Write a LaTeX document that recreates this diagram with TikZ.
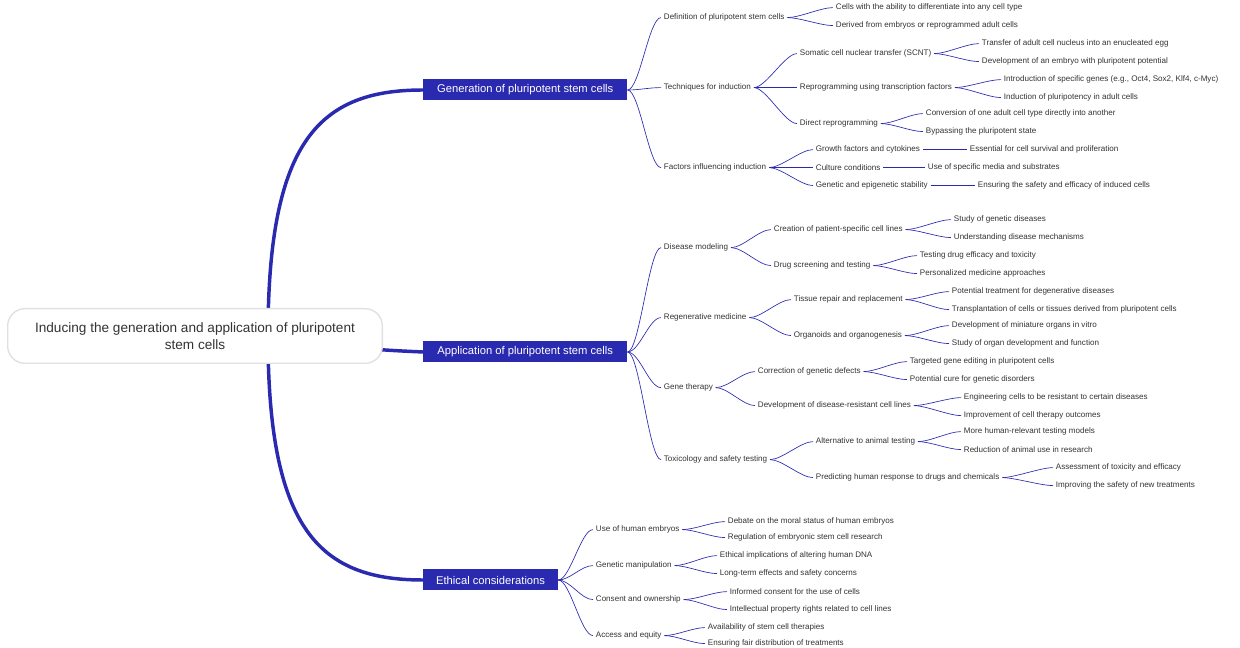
\documentclass[tikz,border=0pt]{standalone}
\usepackage{fontspec}
\setmainfont{Liberation Sans}
\usepackage{tikz}
\definecolor{MB}{HTML}{2A2AB0}
\definecolor{TX}{HTML}{333333}
\tikzset{
  root/.style={draw=black!12, line width=1pt, fill=white, rounded corners=13pt, align=center, font=\fontsize{10.2}{12.5}\selectfont, text=TX},
  branch/.style={fill=MB, text=white, anchor=west, inner xsep=9pt, minimum height=15.75pt, font=\fontsize{8.4}{10}\selectfont},
  leaf/.style={anchor=west, inner xsep=2pt, inner ysep=1pt, yshift=-1.2pt, text=TX, font=\fontsize{6.05}{7.5}\selectfont},
  link/.style={draw=MB, line width=0.5pt},
  trunk/.style={draw=MB, line width=2.6pt},
}
\newcommand{\lnk}[2]{\draw[link] (#1.east) .. controls +(12,0) and +(-12,0) .. (#2.west);}
\begin{document}
\begin{tikzpicture}[x=0.75pt, y=-0.75pt]
\useasboundingbox (0,0) rectangle (1240,648);
% main branches
\node[branch, minimum width=153pt] (g) at (423,90) {Generation of pluripotent stem cells};
\node[branch, minimum width=153pt] (a) at (423,352) {Application of pluripotent stem cells};
\node[branch, minimum width=101pt] (e) at (423,580) {Ethical considerations};
\draw[trunk] (268,336) .. controls (268,140) and (320,90) .. (g.west);
\draw[trunk] (300,342) .. controls (380,350) .. (a.west);
\draw[trunk] (268,336) .. controls (268,530) and (320,580) .. (e.west);
\node[root, minimum width=281pt, minimum height=41pt] (r) at (195,336) {Inducing the generation and application of pluripotent\\stem cells};
% generation
\node[leaf] (g1) at (661,16) {Definition of pluripotent stem cells};
\node[leaf] (g2) at (661,86) {Techniques for induction};
\node[leaf] (g3) at (661,166) {Factors influencing induction};
\node[leaf] (g11) at (833,6) {Cells with the ability to differentiate into any cell type};
\node[leaf] (g12) at (833,24) {Derived from embryos or reprogrammed adult cells};
\node[leaf] (g21) at (797,52) {Somatic cell nuclear transfer (SCNT)};
\node[leaf] (g22) at (797,86) {Reprogramming using transcription factors};
\node[leaf] (g23) at (797,122) {Direct reprogramming};
\node[leaf] (g211) at (979,42) {Transfer of adult cell nucleus into an enucleated egg};
\node[leaf] (g212) at (979,60) {Development of an embryo with pluripotent potential};
\node[leaf] (g221) at (1001,78) {Introduction of specific genes (e.g., Oct4, Sox2, Klf4, c-Myc)};
\node[leaf] (g222) at (1001,96) {Induction of pluripotency in adult cells};
\node[leaf] (g231) at (923,112) {Conversion of one adult cell type directly into another};
\node[leaf] (g232) at (923,130) {Bypassing the pluripotent state};
\node[leaf] (g31) at (813,148) {Growth factors and cytokines};
\node[leaf] (g32) at (813,166) {Culture conditions};
\node[leaf] (g33) at (813,184) {Genetic and epigenetic stability};
\node[leaf] (g311) at (967,148) {Essential for cell survival and proliferation};
\node[leaf] (g321) at (925,166) {Use of specific media and substrates};
\node[leaf] (g331) at (975,184) {Ensuring the safety and efficacy of induced cells};
% application
\node[leaf] (a1) at (661,246) {Disease modeling};
\node[leaf] (a2) at (661,316) {Regenerative medicine};
\node[leaf] (a3) at (661,386) {Gene therapy};
\node[leaf] (a4) at (661,458) {Toxicology and safety testing};
\node[leaf] (a11) at (771,228) {Creation of patient-specific cell lines};
\node[leaf] (a12) at (771,264) {Drug screening and testing};
\node[leaf] (a111) at (951,218) {Study of genetic diseases};
\node[leaf] (a112) at (951,236) {Understanding disease mechanisms};
\node[leaf] (a121) at (917,254) {Testing drug efficacy and toxicity};
\node[leaf] (a122) at (917,272) {Personalized medicine approaches};
\node[leaf] (a21) at (791,298) {Tissue repair and replacement};
\node[leaf] (a22) at (791,334) {Organoids and organogenesis};
\node[leaf] (a211) at (949,290) {Potential treatment for degenerative diseases};
\node[leaf] (a212) at (949,308) {Transplantation of cells or tissues derived from pluripotent cells};
\node[leaf] (a221) at (949,324) {Development of miniature organs in vitro};
\node[leaf] (a222) at (949,342) {Study of organ development and function};
\node[leaf] (a31) at (755,370) {Correction of genetic defects};
\node[leaf] (a32) at (755,404) {Development of disease-resistant cell lines};
\node[leaf] (a311) at (907,360) {Targeted gene editing in pluripotent cells};
\node[leaf] (a312) at (907,378) {Potential cure for genetic disorders};
\node[leaf] (a321) at (961,396) {Engineering cells to be resistant to certain diseases};
\node[leaf] (a322) at (961,414) {Improvement of cell therapy outcomes};
\node[leaf] (a41) at (813,440) {Alternative to animal testing};
\node[leaf] (a42) at (813,476) {Predicting human response to drugs and chemicals};
\node[leaf] (a411) at (961,430) {More human-relevant testing models};
\node[leaf] (a412) at (961,448) {Reduction of animal use in research};
\node[leaf] (a421) at (1053,466) {Assessment of toxicity and efficacy};
\node[leaf] (a422) at (1053,484) {Improving the safety of new treatments};
% ethics
\node[leaf] (e1) at (593,528) {Use of human embryos};
\node[leaf] (e2) at (593,564) {Genetic manipulation};
\node[leaf] (e3) at (593,598) {Consent and ownership};
\node[leaf] (e4) at (593,634) {Access and equity};
\node[leaf] (e11) at (725,520) {Debate on the moral status of human embryos};
\node[leaf] (e12) at (725,536) {Regulation of embryonic stem cell research};
\node[leaf] (e21) at (717,554) {Ethical implications of altering human DNA};
\node[leaf] (e22) at (717,572) {Long-term effects and safety concerns};
\node[leaf] (e31) at (727,590) {Informed consent for the use of cells};
\node[leaf] (e32) at (727,608) {Intellectual property rights related to cell lines};
\node[leaf] (e41) at (705,626) {Availability of stem cell therapies};
\node[leaf] (e42) at (705,642) {Ensuring fair distribution of treatments};
% connectors
\foreach \p/\c in {g/g1,g/g2,g/g3,g1/g11,g1/g12,g2/g21,g2/g22,g2/g23,g21/g211,g21/g212,
  g22/g221,g22/g222,g23/g231,g23/g232,g3/g31,g3/g32,g3/g33,g31/g311,g32/g321,g33/g331,
  a/a1,a/a2,a/a3,a/a4,a1/a11,a1/a12,a11/a111,a11/a112,a12/a121,a12/a122,a2/a21,a2/a22,
  a21/a211,a21/a212,a22/a221,a22/a222,a3/a31,a3/a32,a31/a311,a31/a312,a32/a321,a32/a322,
  a4/a41,a4/a42,a41/a411,a41/a412,a42/a421,a42/a422,
  e/e1,e/e2,e/e3,e/e4,e1/e11,e1/e12,e2/e21,e2/e22,e3/e31,e3/e32,e4/e41,e4/e42}
  {\lnk{\p}{\c}}
\end{tikzpicture}
\end{document}
